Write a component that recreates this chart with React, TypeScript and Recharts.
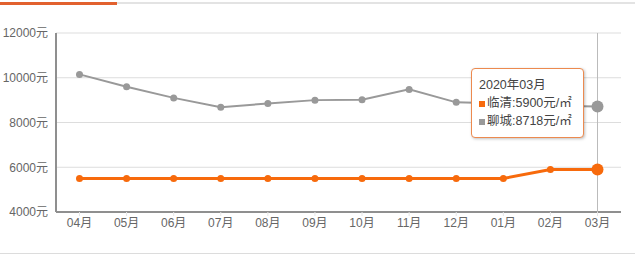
import React from 'react';
import { LineChart, Line, XAxis, YAxis, CartesianGrid, Tooltip } from 'recharts';

const periods = ['2019年04月', '2019年05月', '2019年06月', '2019年07月', '2019年08月', '2019年09月', '2019年10月', '2019年11月', '2019年12月', '2020年01月', '2020年02月', '2020年03月'];
const linqing = [5500, 5500, 5500, 5500, 5500, 5500, 5500, 5500, 5500, 5500, 5900, 5900];
const liaocheng = [10150, 9600, 9100, 8680, 8850, 9000, 9020, 9480, 8900, 8850, 8750, 8718];
const yTicks = [4000, 6000, 8000, 10000, 12000];
const seriesNames = ['临清', '聊城'];

const data = periods.map((p, i) => ({ period: p, month: p.slice(5), linqing: linqing[i], liaocheng: liaocheng[i] }));

const FONT = "'Liberation Sans', Arial, 'Noto Sans CJK SC', sans-serif";
const ORANGE = '#f76a0c';
const GRAY = '#999999';

const TipContent = (props: any) => {
  const { active, payload } = props;
  if (!active || !payload || !payload.length) return null;
  const row = payload[0].payload;
  return (
    <div style={{
      background: '#fff', border: '1px solid #ec8a4f', borderRadius: 4,
      boxShadow: '1px 1px 3px rgba(0,0,0,0.25)', width: 113, height: 70, boxSizing: 'border-box',
      padding: '7px 0 0 7px', fontFamily: FONT, fontSize: 12.5, color: '#444', lineHeight: '18px'
    }}>
      <div>{row.period}</div>
      <div><span style={{ display: 'inline-block', width: 6, height: 6, background: ORANGE, marginRight: 2, verticalAlign: 'middle' }} />{seriesNames[0]}:{row.linqing}元/㎡</div>
      <div><span style={{ display: 'inline-block', width: 6, height: 6, background: GRAY, marginRight: 2, verticalAlign: 'middle' }} />{seriesNames[1]}:{row.liaocheng}元/㎡</div>
    </div>
  );
};

export default function App() {
  return (
    <div style={{ position: 'absolute', left: 0, top: 0, width: 635, height: 257, background: '#fff', overflow: 'hidden' }}>
      <div style={{ position: 'absolute', left: 117, top: 2, width: 518, height: 2, background: '#e3e3e3' }} />
      <div style={{ position: 'absolute', left: 0, top: 2, width: 117, height: 3, background: '#e2612e' }} />
      <div style={{ position: 'absolute', left: 0, top: 253, width: 635, height: 1, background: '#dcdcdc' }} />
      <LineChart width={635} height={257} data={data} margin={{ top: 33, right: 14, bottom: 15, left: 0 }}>
        <CartesianGrid horizontal vertical={false} stroke="#dddddd" />
        <XAxis dataKey="month" height={30} padding={{ left: 23.5, right: 23.5 }} axisLine={{ stroke: '#8f8f8f', strokeWidth: 2 }} tickLine={{ stroke: '#e6e6e6' }} tickSize={4} tickMargin={2} tick={{ fill: '#666', fontSize: 12, fontFamily: FONT }} interval={0} />
        <YAxis width={56} domain={[4000, 12000]} ticks={yTicks} axisLine={{ stroke: '#8f8f8f', strokeWidth: 2 }} tickLine={false} tickSize={0} tickMargin={8} tick={{ fill: '#666', fontSize: 12, fontFamily: FONT }} tickFormatter={(v: number) => v + '元'} />
        <Tooltip defaultIndex={11} content={<TipContent />} position={{ x: 471, y: 68 }} cursor={{ stroke: '#bbbbbb', strokeWidth: 1 }} isAnimationActive={false} wrapperStyle={{ outline: 'none' }} />
        <Line dataKey="liaocheng" stroke={GRAY} strokeWidth={2} dot={{ r: 3.5, fill: GRAY, stroke: GRAY, strokeWidth: 0 }} activeDot={{ r: 6, fill: GRAY, stroke: GRAY, strokeWidth: 0 }} isAnimationActive={false} />
        <Line dataKey="linqing" stroke={ORANGE} strokeWidth={3} dot={{ r: 3.5, fill: ORANGE, stroke: ORANGE, strokeWidth: 0 }} activeDot={{ r: 6, fill: ORANGE, stroke: ORANGE, strokeWidth: 0 }} isAnimationActive={false} />
      </LineChart>
    </div>
  );
}
